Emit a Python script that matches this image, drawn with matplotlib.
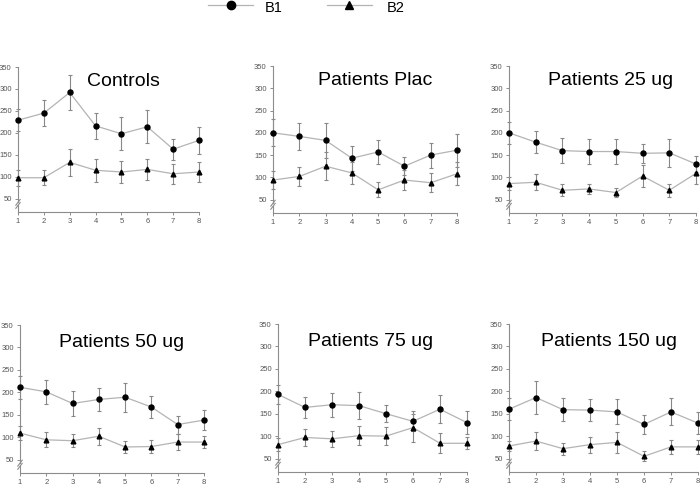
import matplotlib
matplotlib.use("Agg")
import matplotlib.pyplot as plt
import numpy as np

plt.rcParams['font.family'] = ['Liberation Sans', 'DejaVu Sans']

weeks = [1, 2, 3, 4, 5, 6, 7, 8]
titles = ["Controls", "Patients Plac", "Patients 25 ug",
          "Patients 50 ug", "Patients 75 ug", "Patients 150 ug"]
yticks = [50, 100, 150, 200, 250, 300, 350]

b1_controls = [229, 245, 292, 216, 198, 214, 163, 183]
b1_controls_err = [25, 29, 39, 30, 38, 38, 24, 30]
b2_controls = [98, 98, 133, 115, 111, 117, 107, 111]
b2_controls_err = [18, 17, 30, 26, 24, 24, 23, 23]

b1_plac = [200, 192, 183, 143, 157, 125, 150, 161]
b1_plac_err = [30, 30, 40, 28, 27, 20, 28, 37]
b2_plac = [94, 102, 125, 110, 72, 94, 88, 108]
b2_plac_err = [20, 21, 32, 25, 17, 22, 21, 26]

b1_25 = [200, 179, 160, 158, 158, 154, 155, 130]
b1_25_err = [25, 24, 28, 27, 28, 22, 31, 18]
b2_25 = [86, 89, 71, 74, 66, 103, 71, 109]
b2_25_err = [15, 18, 13, 11, 10, 25, 14, 23]

b1_50 = [211, 201, 175, 184, 189, 167, 128, 138]
b1_50_err = [25, 27, 28, 26, 32, 25, 20, 22]
b2_50 = [109, 94, 92, 102, 78, 79, 89, 89]
b2_50_err = [15, 17, 15, 19, 14, 15, 17, 13]

b1_75 = [193, 164, 170, 168, 150, 133, 160, 130]
b1_75_err = [22, 23, 27, 30, 19, 22, 31, 25]
b2_75 = [81, 97, 94, 101, 100, 119, 84, 84]
b2_75_err = [15, 18, 18, 21, 20, 31, 22, 13]

b1_150 = [160, 186, 159, 158, 154, 126, 154, 129]
b1_150_err = [25, 37, 25, 24, 28, 22, 30, 24]
b2_150 = [78, 89, 72, 81, 86, 55, 76, 76]
b2_150_err = [12, 20, 13, 18, 24, 11, 16, 15]

b1_all = [b1_controls, b1_plac, b1_25, b1_50, b1_75, b1_150]
b1_err_all = [b1_controls_err, b1_plac_err, b1_25_err, b1_50_err, b1_75_err, b1_150_err]
b2_all = [b2_controls, b2_plac, b2_25, b2_50, b2_75, b2_150]
b2_err_all = [b2_controls_err, b2_plac_err, b2_25_err, b2_50_err, b2_75_err, b2_150_err]

W, H = 700, 486
fig = plt.figure(figsize=(W / 100, H / 100), dpi=100)

# axes rectangles in pixels: left, right, top, bottom
rects = [(18, 199, 67, 212), (273, 457, 66, 213), (509, 696, 66, 213),
         (20, 204, 325, 473), (278, 467, 324, 472), (509, 698, 324, 472)]
title_x = [0.58, 0.555, 0.545, 0.55, 0.49, 0.53]
title_y = [0.90, 0.90, 0.90, 0.88, 0.88, 0.88]

axc = '#8c8c8c'
linec = '#b4b4b4'
errc = '#888888'

for i, (l, r, t, b) in enumerate(rects):
    ax = fig.add_axes([l / W, 1 - b / H, (r - l) / W, (b - t) / H])
    for vals, errs in ((b1_all[i], b1_err_all[i]), (b2_all[i], b2_err_all[i])):
        eb = ax.errorbar(weeks, vals, yerr=errs, fmt='none', ecolor=errc,
                         elinewidth=0.8, capsize=1.6, capthick=0.8, zorder=2)
        for art in eb.lines[1] + eb.lines[2]:
            art.set_clip_on(False)
        for art in eb.lines[2]:
            art.set_clip_on(False)
    ax.plot(weeks, b1_all[i], '-', color=linec, lw=0.9, zorder=3)
    ax.plot(weeks, b2_all[i], '-', color=linec, lw=0.9, zorder=3)
    ax.plot(weeks, b1_all[i], 'o', color='black', ms=3.6, zorder=4, clip_on=False)
    ax.plot(weeks, b2_all[i], '^', color='black', ms=3.4, zorder=4, clip_on=False)
    ax.set_xlim(1, 8)
    ax.set_ylim(20, 350)
    ax.set_xticks(weeks)
    ax.set_yticks(yticks)
    for s in ['top', 'right', 'left']:
        ax.spines[s].set_visible(False)
    ax.spines['bottom'].set_color(axc)
    ax.spines['bottom'].set_linewidth(0.8)
    # left axis with break
    brk_lo = (35 - 20) / 330
    brk_hi = (42 - 20) / 330
    ax.axvline(1, 0, brk_lo, color=axc, lw=0.8, clip_on=False)
    ax.axvline(1, brk_hi, 1, color=axc, lw=0.8, clip_on=False)
    for yy in (brk_lo, brk_hi):
        ax.plot([-0.012, 0.012], [yy - 0.02, yy + 0.02], transform=ax.transAxes,
                color=axc, lw=0.8, clip_on=False)
    ax.tick_params(axis='both', colors=axc, labelcolor='#555555', labelsize=5.5,
                   length=2.5, width=0.7, pad=2)
    ax.set_facecolor('none')
    ax.text(title_x[i], title_y[i], titles[i], transform=ax.transAxes,
            ha='center', va='center', fontsize=14, color='black')

# legend at top
lax = fig.add_axes([0, 0, 1, 1])
lax.set_xlim(0, W)
lax.set_ylim(H, 0)
lax.axis('off')
lax.plot([208, 253], [5, 5], color=linec, lw=0.9)
lax.plot([231], [5], 'o', color='black', ms=6)
lax.text(265, 8, "B1", fontsize=10.5, va='center', ha='left')
lax.plot([327, 372], [5, 5], color=linec, lw=0.9)
lax.plot([349], [5], '^', color='black', ms=6)
lax.text(387, 8, "B2", fontsize=10.5, va='center', ha='left')

fig.savefig("out.png", dpi=100)
